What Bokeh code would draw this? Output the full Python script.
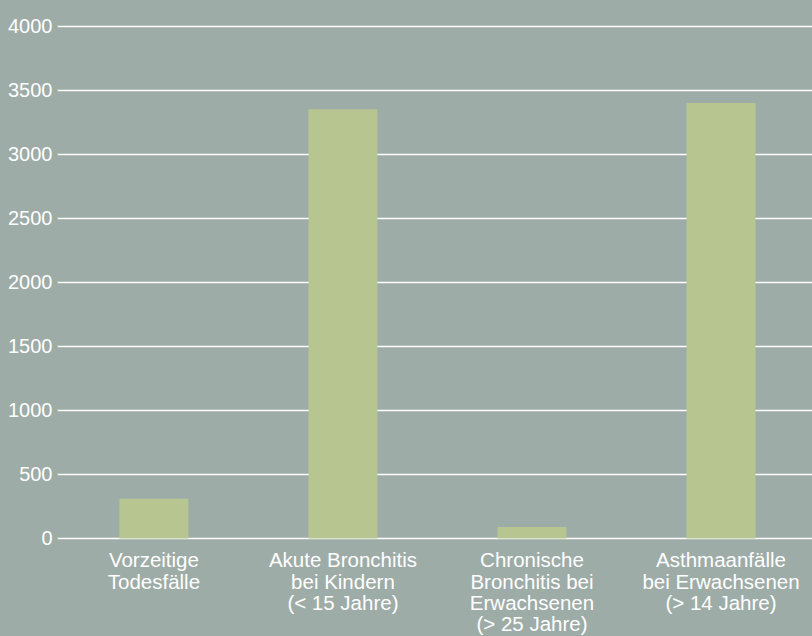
from bokeh.plotting import figure
from bokeh.models import Range1d, FixedTicker, ColumnDataSource, GlobalInlineStyleSheet
from bokeh.core.properties import value
from bokeh.embed import file_html
from bokeh.resources import INLINE

# ---- data ----
categories = [
    "Vorzeitige\nTodesfälle",
    "Akute Bronchitis\nbei Kindern\n(< 15 Jahre)",
    "Chronische\nBronchitis bei\nErwachsenen\n(> 25 Jahre)",
    "Asthmaanfälle\nbei Erwachsenen\n(> 14 Jahre)",
]
values = [310, 3350, 90, 3400]
y_ticks = [0, 500, 1000, 1500, 2000, 2500, 3000, 3500, 4000]

BG = "#9eaca8"
BAR = "#b7c590"
FONT = "Liberation Sans"

idx = list(range(len(categories)))
src = ColumnDataSource(dict(x=idx, v=values, label=categories, base=[0] * len(idx)))

p = figure(
    width=812, height=636,
    output_backend="svg", toolbar_location=None,
    x_axis_location=None,
    x_range=Range1d(-0.510, 3.484),
    y_range=Range1d(-765, 4121),
    min_border_left=57, min_border_right=0, min_border_top=10, min_border_bottom=0,
)
p.stylesheets = [GlobalInlineStyleSheet(css="body { background-color: %s; }" % BG)]
p.background_fill_color = BG
p.border_fill_color = BG
p.outline_line_color = None

p.vbar(x="x", top="v", bottom=0, width=0.365, source=src,
       fill_color=BAR, line_color=None)

# grid
p.xgrid.grid_line_color = None
p.ygrid.grid_line_color = "white"
p.ygrid.grid_line_width = 1.4
p.ygrid.ticker = FixedTicker(ticks=y_ticks)

# y axis
p.yaxis.ticker = FixedTicker(ticks=y_ticks)
p.yaxis.axis_line_color = None
p.yaxis.major_tick_line_color = None
p.yaxis.minor_tick_line_color = None
p.yaxis.major_tick_out = 0
p.yaxis.major_tick_in = 0
p.yaxis.major_label_standoff = 5
p.yaxis.major_label_text_color = "white"
p.yaxis.major_label_text_font = FONT
p.yaxis.major_label_text_font_size = "20px"

# category labels below the zero line
p.text(x="x", y="base", text="label", source=src,
       y_offset=10, text_align="center", text_baseline="top",
       text_color="white", text_font=value(FONT), text_font_size="20.5px",
       text_line_height=0.92)

open("out.html", "w").write(file_html(p, INLINE))
